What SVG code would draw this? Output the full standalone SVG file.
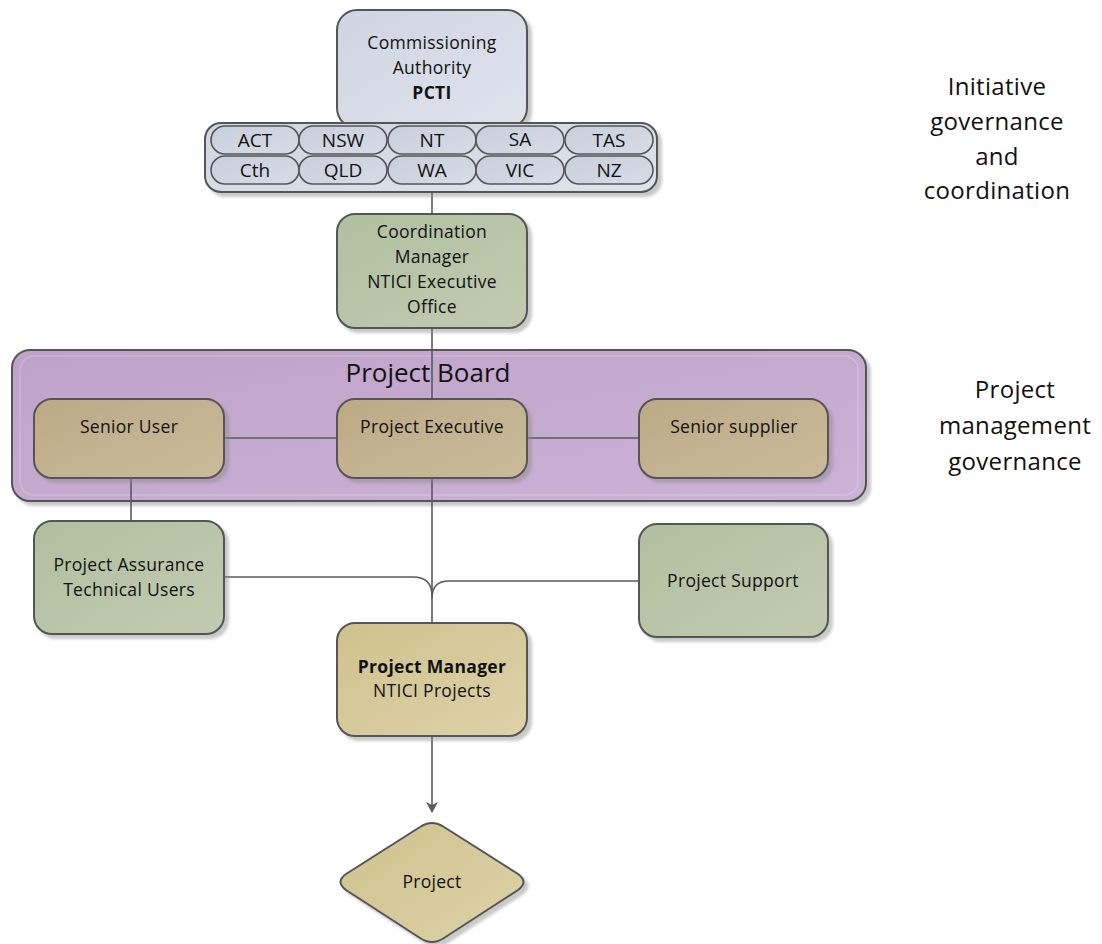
<svg xmlns="http://www.w3.org/2000/svg" width="1102" height="944" viewBox="0 0 1102 944">
<style>
  text { font-family: "Open Sans", "Noto Sans", "DejaVu Sans", sans-serif; fill: #111; text-anchor: middle; }
  .t { font-size: 17.5px; letter-spacing: 0.3px; }
  .pill-t { font-size: 19px; }
  .side { font-size: 24px; letter-spacing: 0.3px; }
  .title { font-size: 26px; }
  .box { stroke: #555558; stroke-width: 2; }
  .conn { fill: none; stroke: #5a5a60; stroke-width: 1.6; }
  .inner { fill: none; stroke: #ffffff; stroke-opacity: 0.2; stroke-width: 1.5; }
</style>
<defs>
  <filter id="sh" x="-10%" y="-10%" width="130%" height="130%">
    <feDropShadow dx="4" dy="4" stdDeviation="1.5" flood-color="#888" flood-opacity="0.45"/>
  </filter>
  <linearGradient id="gBlue" x1="0" y1="0" x2="1" y2="1">
    <stop offset="0" stop-color="#cfd5e1"/><stop offset="1" stop-color="#dfe3ec"/>
  </linearGradient>
  <linearGradient id="gPill" x1="0" y1="0" x2="1" y2="1">
    <stop offset="0" stop-color="#c9cfdb"/><stop offset="1" stop-color="#d7dce6"/>
  </linearGradient>
  <linearGradient id="gGreen" x1="0" y1="0" x2="1" y2="1">
    <stop offset="0" stop-color="#b1bf9f"/><stop offset="1" stop-color="#c2cbb1"/>
  </linearGradient>
  <linearGradient id="gPurple" x1="0" y1="0" x2="1" y2="1">
    <stop offset="0" stop-color="#bfa2c9"/><stop offset="1" stop-color="#ccb3d6"/>
  </linearGradient>
  <linearGradient id="gTan" x1="0" y1="0" x2="1" y2="1">
    <stop offset="0" stop-color="#bca986"/><stop offset="1" stop-color="#cbbb9a"/>
  </linearGradient>
  <linearGradient id="gYellow" x1="0" y1="0" x2="1" y2="1">
    <stop offset="0" stop-color="#cfc28e"/><stop offset="1" stop-color="#ddd2a8"/>
  </linearGradient>
  <marker id="arr" markerWidth="12" markerHeight="12" refX="10" refY="6" orient="auto" markerUnits="userSpaceOnUse">
    <path d="M0,0 L11,6 L0,12 L3,6 Z" fill="#5a5a60"/>
  </marker>
</defs>

<rect width="1102" height="944" fill="#ffffff"/>

<!-- Project Board container -->
<g id="project-board">
  <rect x="12" y="350" width="854" height="151" rx="18" fill="url(#gPurple)" class="box" filter="url(#sh)"/>
  <rect x="20" y="356" width="838" height="139" rx="14" class="inner"/>
  <text class="title" x="428" y="382">Project Board</text>
</g>

<!-- Connectors -->
<g id="connectors">
  <line class="conn" x1="432" y1="192" x2="432" y2="214"/>
  <line class="conn" x1="432" y1="328" x2="432" y2="399"/>
  <line class="conn" x1="224" y1="438" x2="337" y2="438"/>
  <line class="conn" x1="527" y1="438" x2="639" y2="438"/>
  <line class="conn" x1="131" y1="478" x2="131" y2="521"/>
  <line class="conn" x1="432" y1="478" x2="432" y2="623"/>
  <path class="conn" d="M224,577 L413,577 Q432,577 432,596"/>
  <path class="conn" d="M639,581 L449,581 Q432,581 432,598"/>
  <line class="conn" x1="432" y1="736" x2="432" y2="812" marker-end="url(#arr)"/>
</g>

<!-- Commissioning Authority -->
<g id="commissioning-authority">
  <rect x="337" y="10" width="190" height="118" rx="20" fill="url(#gBlue)" class="box" filter="url(#sh)"/>
  <text class="t" x="432" y="49">Commissioning</text>
  <text class="t" x="432" y="74">Authority</text>
  <text class="t" x="432" y="99" font-weight="bold">PCTI</text>
</g>

<!-- Jurisdictions strip -->
<g id="jurisdictions">
  <rect x="205" y="123" width="452" height="69" rx="16" fill="url(#gBlue)" class="box" filter="url(#sh)"/>
  <g fill="url(#gPill)" stroke="#555558" stroke-width="1.6">
    <rect x="211" y="126" width="88" height="28" rx="14"/>
    <rect x="299" y="126" width="88" height="28" rx="14"/>
    <rect x="388" y="126" width="88" height="28" rx="14"/>
    <rect x="476" y="126" width="88" height="28" rx="14"/>
    <rect x="565" y="126" width="88" height="28" rx="14"/>
    <rect x="211" y="156" width="88" height="28" rx="14"/>
    <rect x="299" y="156" width="88" height="28" rx="14"/>
    <rect x="388" y="156" width="88" height="28" rx="14"/>
    <rect x="476" y="156" width="88" height="28" rx="14"/>
    <rect x="565" y="156" width="88" height="28" rx="14"/>
  </g>
  <text class="pill-t" x="255" y="147">ACT</text>
  <text class="pill-t" x="343" y="147">NSW</text>
  <text class="pill-t" x="432" y="147">NT</text>
  <text class="pill-t" x="520" y="146">SA</text>
  <text class="pill-t" x="609" y="147">TAS</text>
  <text class="pill-t" x="255" y="177">Cth</text>
  <text class="pill-t" x="343" y="177">QLD</text>
  <text class="pill-t" x="432" y="177">WA</text>
  <text class="pill-t" x="520" y="177">VIC</text>
  <text class="pill-t" x="609" y="177">NZ</text>
</g>

<!-- Coordination Manager -->
<g id="coordination-manager">
  <rect x="337" y="214" width="190" height="114" rx="18" fill="url(#gGreen)" class="box" filter="url(#sh)"/>
  <text class="t" x="432" y="238">Coordination</text>
  <text class="t" x="432" y="263">Manager</text>
  <text class="t" x="432" y="288">NTICI Executive</text>
  <text class="t" x="432" y="313">Office</text>
</g>

<!-- Senior User -->
<g id="senior-user">
  <rect x="34" y="399" width="190" height="79" rx="18" fill="url(#gTan)" class="box" filter="url(#sh)"/>
  <text class="t" x="129" y="433">Senior User</text>
</g>

<!-- Project Executive -->
<g id="project-executive">
  <rect x="337" y="399" width="190" height="79" rx="18" fill="url(#gTan)" class="box" filter="url(#sh)"/>
  <text class="t" x="432" y="433">Project Executive</text>
</g>

<!-- Senior supplier -->
<g id="senior-supplier">
  <rect x="639" y="399" width="189" height="79" rx="18" fill="url(#gTan)" class="box" filter="url(#sh)"/>
  <text class="t" x="734" y="433">Senior supplier</text>
</g>

<!-- Project Assurance -->
<g id="project-assurance">
  <rect x="34" y="521" width="190" height="113" rx="18" fill="url(#gGreen)" class="box" filter="url(#sh)"/>
  <text class="t" x="129" y="571">Project Assurance</text>
  <text class="t" x="129" y="596">Technical Users</text>
</g>

<!-- Project Support -->
<g id="project-support">
  <rect x="639" y="524" width="189" height="113" rx="18" fill="url(#gGreen)" class="box" filter="url(#sh)"/>
  <text class="t" x="733" y="587">Project Support</text>
</g>

<!-- Project Manager -->
<g id="project-manager">
  <rect x="337" y="623" width="190" height="113" rx="18" fill="url(#gYellow)" class="box" filter="url(#sh)"/>
  <text class="t" x="432" y="673" font-weight="bold">Project Manager</text>
  <text class="t" x="432" y="697">NTICI Projects</text>
</g>

<!-- Project diamond -->
<g id="project">
  <path d="M420,827 Q432,819 444,827 L518,874 Q529,882 518,890 L444,938 Q432,946 420,938 L346,890 Q335,882 346,874 Z" fill="url(#gYellow)" class="box" filter="url(#sh)"/>
  <text class="t" x="432" y="888">Project</text>
</g>

<!-- Side labels -->
<g id="side-labels">
  <text class="side" x="997" y="95">Initiative</text>
  <text class="side" x="997" y="130">governance</text>
  <text class="side" x="997" y="165">and</text>
  <text class="side" x="997" y="199">coordination</text>
  <text class="side" x="1015" y="398">Project</text>
  <text class="side" x="1015" y="434">management</text>
  <text class="side" x="1015" y="470">governance</text>
</g>
</svg>
